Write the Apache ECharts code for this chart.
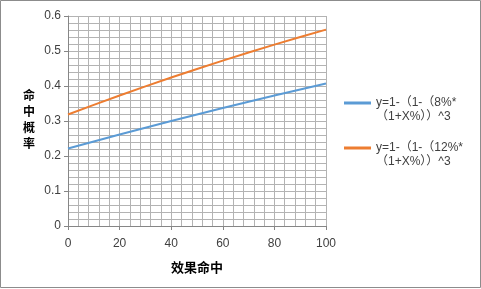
<!DOCTYPE html>
<html><head><meta charset="utf-8">
<script src="https://cdn.jsdelivr.net/npm/echarts@6/dist/echarts.min.js"></script>
<style>html,body{margin:0;padding:0;background:#fff}#c{width:481px;height:289px}</style>
</head><body><div id="c"></div>
<script>
const xValues = [0, 10, 20, 30, 40, 50, 60, 70, 80, 90, 100];
const series8 = [0.2213, 0.2414, 0.2612, 0.2807, 0.2998, 0.3185, 0.3369, 0.3550, 0.3728, 0.3902, 0.4073];
const series12 = [0.3185, 0.3460, 0.3728, 0.3988, 0.4241, 0.4486, 0.4725, 0.4956, 0.5181, 0.5399, 0.5610];
const seriesNames = ['y=1-（1-（8%*\n（1+X%））^3', 'y=1-（1-（12%*\n（1+X%））^3'];
const xTitle = '效果命中';
const yTitle = '命\n中\n概\n率';

const chart = echarts.init(document.getElementById('c'), null, {renderer: 'canvas'});
const font = '"Liberation Sans", "Noto Sans CJK SC", sans-serif';
const gridColor = '#b3b3b3';
const axisColor = '#868686';
chart.setOption({
  animation: false,
  textStyle: {fontFamily: font},
  grid: {left: 68, top: 16, width: 258, height: 210, containLabel: false},
  graphic: [{type: 'rect', shape: {x: 0.5, y: 0.5, width: 480, height: 287}, style: {fill: 'none', stroke: '#8c8c8c', lineWidth: 1}, silent: true}],
  legend: {
    orient: 'vertical', left: 339, top: 77, itemGap: 3, itemWidth: 27, itemHeight: 3,
    icon: 'rect',
    formatter: n => '\n' + n,
    textStyle: {fontSize: 12, color: '#404040', lineHeight: 14, fontFamily: font}
  },
  xAxis: {
    type: 'value', min: 0, max: 100, interval: 20,
    name: xTitle, nameLocation: 'middle', nameGap: 36,
    nameTextStyle: {fontSize: 13, fontWeight: 'bold', color: '#000', fontFamily: font},
    axisLine: {show: true, lineStyle: {color: axisColor}},
    axisTick: {show: true, length: 4, lineStyle: {color: axisColor}},
    axisLabel: {fontSize: 12, color: '#404040', margin: 12},
    splitLine: {show: true, lineStyle: {color: gridColor}},
    minorTick: {show: false, splitNumber: 5},
    minorSplitLine: {show: true, lineStyle: {color: gridColor}}
  },
  yAxis: {
    type: 'value', min: 0, max: 0.6, interval: 0.1,
    name: yTitle, nameLocation: 'middle', nameRotate: 0, nameGap: 33,
    nameTextStyle: {fontSize: 12, fontWeight: 'bold', color: '#000', lineHeight: 16, fontFamily: font},
    axisLine: {show: true, lineStyle: {color: axisColor}},
    axisTick: {show: true, length: 4, lineStyle: {color: axisColor}},
    axisLabel: {fontSize: 12, color: '#404040', margin: 7},
    splitLine: {show: true, lineStyle: {color: gridColor}},
    minorTick: {show: false, splitNumber: 5},
    minorSplitLine: {show: true, lineStyle: {color: gridColor}}
  },
  series: [
    {name: seriesNames[0], type: 'line', data: xValues.map((x, i) => [x, series8[i]]), showSymbol: false, lineStyle: {color: '#5B9BD5', width: 2}, itemStyle: {color: '#5B9BD5'}},
    {name: seriesNames[1], type: 'line', data: xValues.map((x, i) => [x, series12[i]]), showSymbol: false, lineStyle: {color: '#ED7D31', width: 2}, itemStyle: {color: '#ED7D31'}}
  ]
});
</script></body></html>
